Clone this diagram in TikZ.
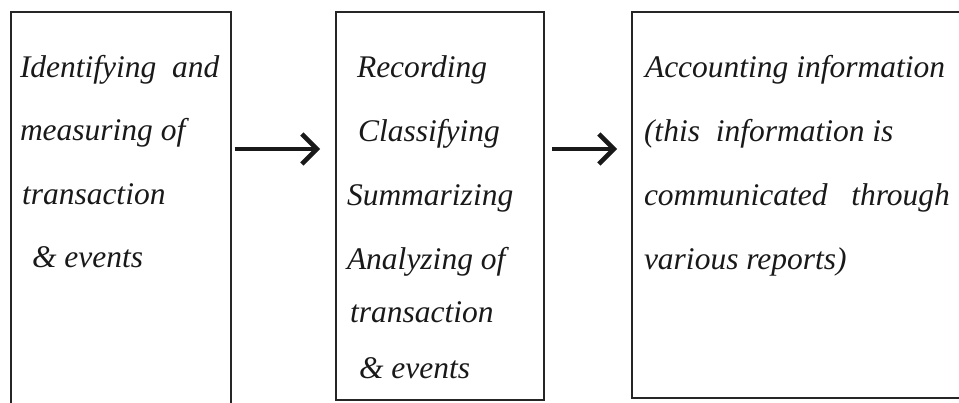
\documentclass[tikz,border=0pt]{standalone}
\usepackage{fontspec}
\setmainfont{Liberation Serif}
\usetikzlibrary{arrows.meta}
\begin{document}
\begin{tikzpicture}[x=1pt,y=-1pt,
  box/.style={draw=black!85,line width=2pt,rectangle,inner sep=0pt,outer sep=0pt,anchor=north west},
  txt/.style={anchor=base west,inner sep=0pt,outer sep=0pt,text=black!90,font=\fontsize{31.5}{36}\selectfont\itshape},
  flow/.style={line width=4.5pt,black!90,-{Straight Barb[length=15pt,width=30pt,line width=4.5pt]}}]
\useasboundingbox (0,0) rectangle (959,403);
\clip (0,0) rectangle (959,403);
% boxes
\node[box,minimum width=220pt,minimum height=430pt] (lb) at (10.5,12) {};
\node[box,minimum width=208pt,minimum height=388pt] (mb) at (336,12) {};
\node[box,minimum width=330pt,minimum height=386pt] (rb) at (632,12) {};
% left text
\node[txt] (l1) at (20,78) {Identifying\ \ and};
\node[txt] (l2) at (20,141) {measuring of};
\node[txt] (l3) at (22,205) {transaction};
\node[txt] (l4) at (32,268) {\& events};
% middle text
\node[txt] (m1) at (357,78) {Recording};
\node[txt] (m2) at (358,142) {Classifying};
\node[txt] (m3) at (347,206) {Summarizing};
\node[txt] (m4) at (347,270) {Analyzing of};
\node[txt] (m5) at (350,323) {transaction};
\node[txt] (m6) at (359,378) {\& events};
% right text
\node[txt] (r1) at (645,78) {Accounting information};
\node[txt] (r2) at (644,142) {(this\ \ information is};
\node[txt] (r3) at (644,206) {communicated\ \ \ through};
\node[txt] (r4) at (644,270) {various reports)};
% arrows
\coordinate (ay) at (0,149);
\draw[flow,shorten <=4pt,shorten >=16pt] (lb.east |- ay) -- (mb.west |- ay);
\draw[flow,shorten <=8pt,shorten >=15pt] (mb.east |- ay) -- (rb.west |- ay);
\end{tikzpicture}
\end{document}
